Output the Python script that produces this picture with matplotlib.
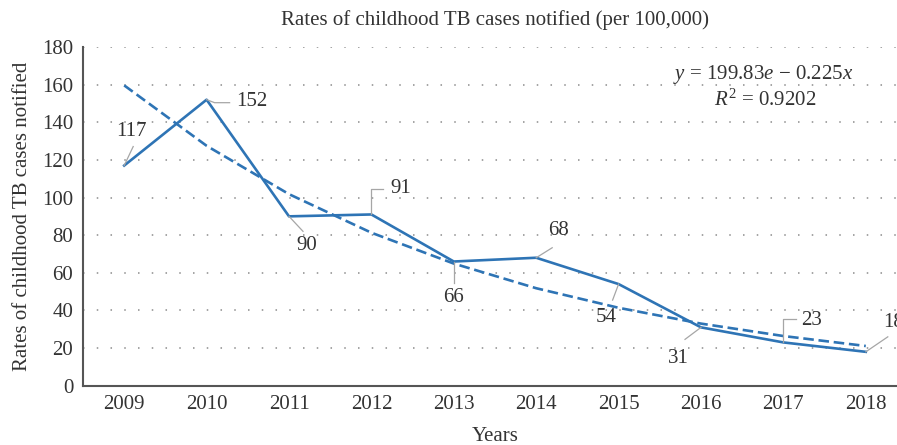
import matplotlib
matplotlib.use("Agg")
import matplotlib.pyplot as plt
from matplotlib.lines import Line2D

plt.rcParams['font.family'] = ['Liberation Serif', 'DejaVu Serif']
plt.rcParams['mathtext.fontset'] = 'custom'
plt.rcParams['mathtext.rm'] = 'Liberation Serif'
plt.rcParams['mathtext.it'] = 'Liberation Serif:italic'

years = ['2009', '2010', '2011', '2012', '2013', '2014', '2015', '2016', '2017', '2018']
rates = [117, 152, 90, 91, 66, 68, 54, 31, 23, 18]
trend = [159.6, 127.5, 101.8, 81.3, 64.9, 51.8, 41.4, 33.0, 26.4, 21.1]
yticks = [0, 20, 40, 60, 80, 100, 120, 140, 160, 180]

# label text offsets (pixels, dy downward) and leader paths
label_offsets = [(7, -34), (45, 2), (18, 29), (29, -26), (0, 36), (22, -27), (-12, 33), (-23, 31), (28, -22), (28, -29)]
leaders = [
    [(0, 0), (9, -19)],
    [(0, 0), (8, 3), (23, 3)],
    [(0, 0), (14, 15)],
    [(0, 0), (0, -25), (12, -25)],
    [(0, 0), (0, 21)],
    [(0, 0), (16, -10)],
    [(0, 0), (-6, 16)],
    [(0, 0), (-16, 12)],
    [(0, 0), (0, -23), (13, -23)],
    [(0, 0), (22, -15)],
]

W, H = 897, 445
FS = 15
fig = plt.figure(figsize=(W / 100, H / 100), dpi=100)
ax = fig.add_axes([83 / W, (H - 385.7) / H, (907 - 83) / W, (385.7 - 47) / H])

blue = '#2e74b5'
text_c = '#333333'
x = list(range(len(years)))

ax.set_xlim(-0.5, len(years) - 0.5)
ax.set_ylim(0, 180)
ax.set_yticks(yticks)
ax.set_xticks(x)
ax.set_xticklabels(years)
for v in yticks[1:]:
    ax.axhline(v, color='#8c8c8c', lw=1.1, ls=(0, (1, 8)), zorder=1)

ax.plot(x, trend, color=blue, lw=1.9, dashes=(4, 1.8), zorder=3)
ax.plot(x, rates, color=blue, lw=1.9, zorder=4)

for s in ['top', 'right']:
    ax.spines[s].set_visible(False)
for s in ['left', 'bottom']:
    ax.spines[s].set_color('#555555')
    ax.spines[s].set_linewidth(1.5)
ax.tick_params(axis='both', length=0, labelsize=FS, colors=text_c)
ax.tick_params(axis='x', pad=7)
ax.tick_params(axis='y', pad=7)

ax.set_title('Rates of childhood TB cases notified (per 100,000)', fontsize=FS, color=text_c, pad=16)
ax.set_ylabel('Rates of childhood TB cases notified', fontsize=FS, color=text_c, labelpad=7)
ax.set_xlabel('Years', fontsize=FS, color=text_c, labelpad=9)

fig.canvas.draw()
for i, v in enumerate(rates):
    px, py = ax.transData.transform((x[i], v))
    xs = [px + dx for dx, dy in leaders[i]]
    ys = [py - dy for dx, dy in leaders[i]]
    fig.add_artist(Line2D(xs, ys, transform=None, color='#a6a6a6', lw=0.9, zorder=5))
    ox, oy = label_offsets[i]
    ax.annotate(str(v), (x[i], v), xytext=(ox, -oy), textcoords='offset pixels',
                ha='center', va='center', fontsize=FS, color=text_c, annotation_clip=False)

fig.text(763 / W, (H - 74) / H, r'$y$ = 199.83$e$ − 0.225$x$', fontsize=FS,
         ha='center', va='center', color=text_c)
fig.text(765 / W, (H - 100) / H, r'$R^2$ = 0.9202', fontsize=FS,
         ha='center', va='center', color=text_c)

fig.savefig('out.png', dpi=100)
